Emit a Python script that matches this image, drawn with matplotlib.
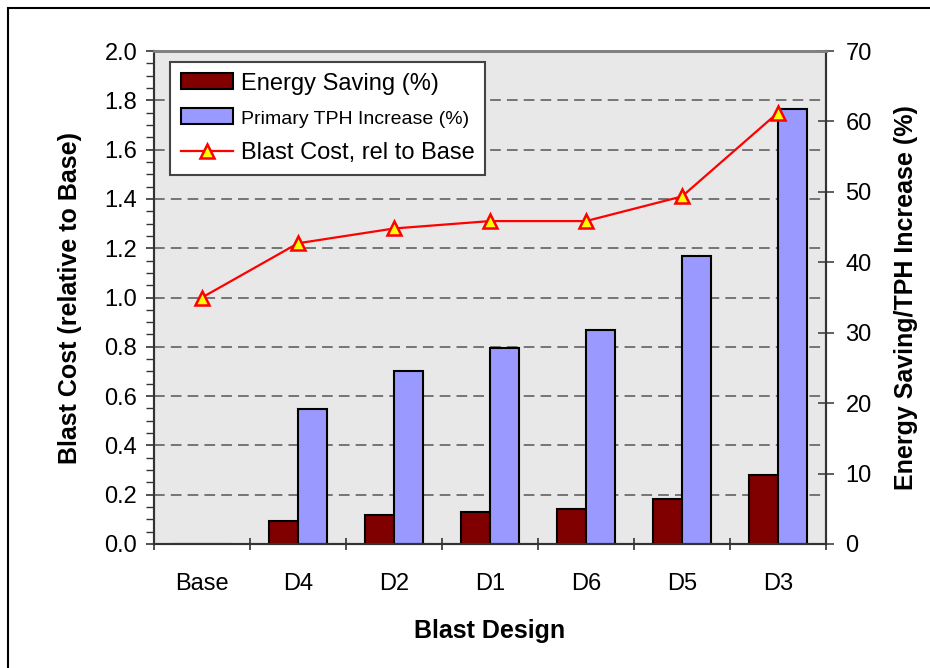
import matplotlib
matplotlib.use("Agg")
import matplotlib.pyplot as plt
from matplotlib.patches import Rectangle
import numpy as np

plt.rcParams['font.family'] = ['Liberation Sans', 'DejaVu Sans']

designs = ['Base', 'D4', 'D2', 'D1', 'D6', 'D5', 'D3']
energy_saving = [0.0, 3.2, 4.1, 4.6, 5.0, 6.4, 9.8]      # %
tph_increase = [0.0, 19.2, 24.6, 27.9, 30.4, 40.9, 61.7]  # %
blast_cost = [1.0, 1.22, 1.28, 1.31, 1.31, 1.41, 1.75]    # rel to Base

fig = plt.figure(figsize=(9.3, 6.68), dpi=100)
ax = fig.add_axes([154/930, 1-544/668, (826-154)/930, (544-51)/668])
ax2 = ax.twinx()

x = np.arange(len(designs))
w = 0.3

# left axis: background + grid
ax.set_facecolor('#e8e8e8')
ax.set_ylim(0, 2.0)
ax.set_yticks(np.arange(0, 2.01, 0.2))
ax.set_yticks(np.arange(0, 2.01, 0.05), minor=True)
ax.set_yticklabels(['%.1f' % v for v in np.arange(0, 2.01, 0.2)])
ax.grid(axis='y', which='major', color='#555555', linestyle=(0, (7, 4)), linewidth=1.1)
ax.set_axisbelow(True)

# bars on right axis
b1 = ax2.bar(x - w/2, energy_saving, w, color='#800000', edgecolor='black', linewidth=1.5,
             label='Energy Saving (%)', zorder=2)
b2 = ax2.bar(x + w/2, tph_increase, w, color='#9999ff', edgecolor='black', linewidth=1.5,
             label='Primary TPH Increase (%)', zorder=2)
ax2.set_ylim(0, 70)
ax2.set_yticks(np.arange(0, 71, 10))

# cost line drawn in ax2 layer but on left-axis scale
ln, = ax2.plot(x, blast_cost, color='red', linewidth=1.6, marker='^', markersize=10,
               markerfacecolor='yellow', markeredgecolor='red', markeredgewidth=1.8,
               transform=ax.transData, label='Blast Cost, rel to Base', zorder=3, clip_on=False)

ax.set_xlim(-0.5, len(designs) - 0.5)
ax.set_xticks(x)
ax.set_xticklabels(designs)
ax.set_xticks(np.arange(-0.5, len(designs), 1.0), minor=True)
ax.tick_params(axis='x', which='major', length=0, pad=21, labelsize=17)
ax.tick_params(axis='x', which='minor', length=8, direction='inout', width=1.2, color='#333333')
ax.tick_params(axis='y', which='major', length=6, width=1.2, labelsize=17, pad=6, color='#333333')
ax.tick_params(axis='y', which='minor', length=6, width=1.0, color='#333333')
ax2.tick_params(axis='y', length=12, direction='inout', width=1.2, labelsize=17, pad=8, color='#444444')

for a in (ax, ax2):
    a.spines['top'].set_color('#808080')
    a.spines['top'].set_linewidth(2)
    for s in ('left', 'bottom', 'right'):
        a.spines[s].set_color('#333333')
        a.spines[s].set_linewidth(1.5)

ax.set_xlabel('Blast Design', fontsize=18, fontweight='bold', labelpad=17)
ax.set_ylabel('Blast Cost (relative to Base)', fontsize=18, fontweight='bold', labelpad=16)
ax2.set_ylabel('Energy Saving/TPH Increase (%)', fontsize=18, fontweight='bold', labelpad=16)

leg = ax2.legend([b1, b2, ln], [b1.get_label(), b2.get_label(), ln.get_label()],
                 loc='upper left', bbox_to_anchor=(16/672, 1-11/493), fontsize=17,
                 frameon=True, fancybox=False, edgecolor='#444444', framealpha=1,
                 borderpad=0.45, handlelength=2.2, handleheight=0.65, handletextpad=0.35,
                 labelspacing=0.58, borderaxespad=0)
leg.get_frame().set_linewidth(1.5)
leg.get_texts()[1].set_fontsize(14)

fig.patches.append(Rectangle((8/930, -0.1), 1.1, 1.1 - 8/668, transform=fig.transFigure,
                             fill=False, edgecolor='black', linewidth=1.5))

fig.savefig('out.png', dpi=100)
